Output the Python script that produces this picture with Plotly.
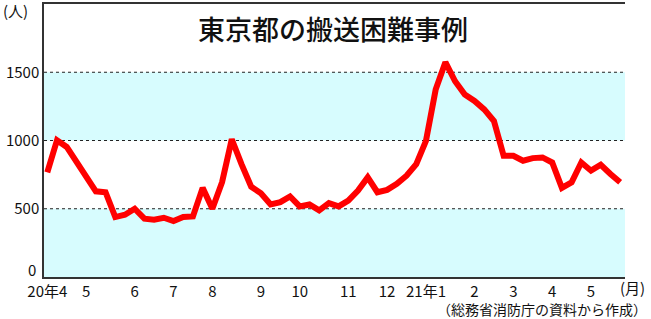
import plotly.graph_objects as go

# weekly counts (week index 0 = first week of Apr 2020)
weeks = list(range(60))
cases = [766, 1002, 953, 850, 730, 628, 621, 439, 456, 500,
         427, 420, 434, 410, 439, 444, 653, 500, 694, 1009,
         827, 662, 614, 531, 548, 590, 517, 531, 488, 541,
         517, 560, 633, 730, 621, 638, 682, 742, 827, 997,
         1373, 1574, 1434, 1337, 1290, 1228, 1143, 888, 888, 852,
         871, 876, 839, 653, 694, 839, 779, 822, 755, 694]

tick_weeks = [0, 4, 9, 13, 17, 22, 26, 31, 35, 39, 44, 48, 52, 56]
tick_labels = ["20年4", "5", "6", "7", "8", "9", "10", "11", "12",
               "21年1", "2", "3", "4", "5"]
y_ticks = [500, 1000, 1500]
bands = [(0, 500), (1000, 1500)]

FONT = "Noto Sans CJK JP"
fig = go.Figure()
fig.add_trace(go.Scatter(x=weeks, y=cases, mode="lines",
                         line=dict(color="#ff0000", width=6),
                         hoverinfo="skip"))

shapes = []
for y0, y1 in bands:
    shapes.append(dict(type="rect", xref="paper", yref="y", x0=0, x1=1,
                       y0=y0, y1=y1, fillcolor="#d7fcfe", line_width=0,
                       layer="below"))
for yv in y_ticks:
    shapes.append(dict(type="line", xref="paper", yref="y", x0=0, x1=1,
                       y0=yv, y1=yv, line=dict(color="#222", width=1.2, dash="dot"),
                       layer="below"))

annotations = [
    dict(text="東京都の搬送困難事例", xref="paper", yref="paper", x=0.498, y=0.912,
         xanchor="center", yanchor="middle", showarrow=False,
         font=dict(family=FONT, size=27, color="#111", weight=500)),
    dict(text="(人)", xref="paper", yref="paper", x=-0.0745, y=0.975,
         xanchor="left", yanchor="middle", showarrow=False,
         font=dict(family=FONT, size=15, color="#111")),
    dict(text="0", xref="paper", yref="y", x=-0.011, y=0, yshift=8,
         xanchor="right", yanchor="middle", showarrow=False,
         font=dict(family=FONT, size=15, color="#111")),
    dict(text="(月)", xref="paper", yref="paper", x=1.0385, y=-0.04,
         xanchor="right", yanchor="middle", showarrow=False,
         font=dict(family=FONT, size=15, color="#111")),
    dict(text="（総務省消防庁の資料から作成）", xref="paper", yref="paper", x=1.042, y=-0.116,
         xanchor="right", yanchor="middle", showarrow=False,
         font=dict(family=FONT, size=14, color="#111")),
]

fig.update_layout(
    width=651, height=319,
    margin=dict(l=44, r=26, t=2, b=42),
    paper_bgcolor="white", plot_bgcolor="white",
    showlegend=False,
    shapes=shapes, annotations=annotations,
    font=dict(family=FONT, size=14, color="#111"),
    xaxis=dict(range=[-0.34, 59.5], tickvals=tick_weeks, ticktext=tick_labels,
               showgrid=False, zeroline=False, showline=True, mirror=True,
               linecolor="#333", linewidth=1.5, ticks="",
               tickfont=dict(family=FONT, size=15, color="#111")),
    yaxis=dict(range=[0, 2000], tickvals=y_ticks, ticktext=[str(v) for v in y_ticks],
               showgrid=False, zeroline=False, showline=True,
               linecolor="#333", linewidth=1.5, ticks="",
               tickfont=dict(family=FONT, size=15, color="#111")),
)

fig.write_html("out.html")
